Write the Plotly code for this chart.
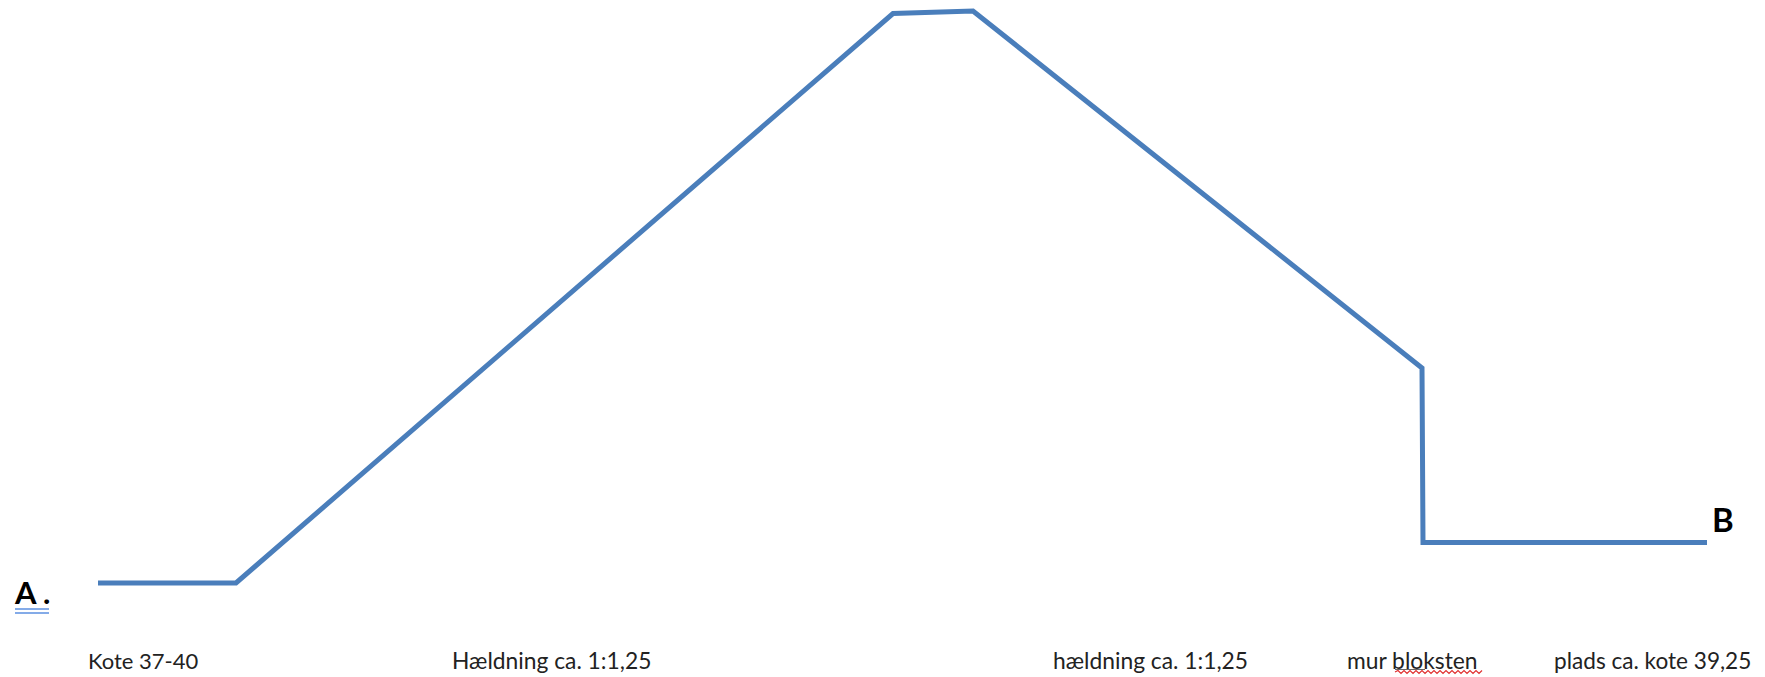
import plotly.graph_objects as go

# Cross-section profile A-B
distance = [98, 236, 893, 973, 1422, 1423, 1707]
height = [94, 94, 663.5, 666, 309, 134.5, 134.5]

labels = ["Kote 37-40", "Hældning ca. 1:1,25", "hældning ca. 1:1,25", "mur bloksten", "plads ca. kote 39,25"]
label_x = [86, 450, 1051, 1345, 1552]
label_y = 17
label_size = [22, 22.8, 22.8, 22.8, 22.6]

end_labels = ["A", ".", "B"]
end_x = [12, 41, 1710]
end_y = [85, 85, 158]
end_size = [31, 31, 33]

LINE = "#4a7ebb"
FONT = "Lato, Carlito, sans-serif"

fig = go.Figure()
fig.add_trace(go.Scatter(x=distance, y=height, mode="lines",
                         line=dict(color=LINE, width=5, shape="linear"),
                         hoverinfo="skip", showlegend=False))

for t, x, s in zip(labels, label_x, label_size):
    fig.add_annotation(x=x, y=label_y, text=t, showarrow=False, xanchor="left", yanchor="middle",
                       font=dict(family=FONT, size=s, color="#222222"))

for t, x, y, s in zip(end_labels, end_x, end_y, end_size):
    fig.add_annotation(x=x, y=y, text=t, showarrow=False, xanchor="left", yanchor="middle",
                       font=dict(family=FONT, size=s, color="#000000", weight="bold"))

# Wavy spell-check underline under "bloksten"
wave = "M 1395 5"
step_x = 1395
up = True
while step_x < 1481:
    step_x += 3
    wave += f" L {step_x} {6.5 if up else 3.5}"
    up = not up

shapes = [
    dict(type="line", x0=15, x1=49, y0=68, y1=68, line=dict(color="#5b8fe0", width=1.5)),
    dict(type="line", x0=15, x1=49, y0=64, y1=64, line=dict(color="#5b8fe0", width=1.5)),
    dict(type="path", path=wave, line=dict(color="#e03030", width=1.2)),
    dict(type="line", x0=1395, x1=1425, y0=7.5, y1=7.5, line=dict(color="#666666", width=1)),
]

fig.update_layout(
    width=1765, height=677,
    margin=dict(l=0, r=0, t=0, b=0),
    paper_bgcolor="white", plot_bgcolor="white",
    shapes=shapes,
    xaxis=dict(range=[0, 1765], visible=False, fixedrange=True),
    yaxis=dict(range=[0, 677], visible=False, fixedrange=True),
)
fig.write_html("out.html", config=dict(displayModeBar=False),
               post_script="document.body.style.margin='0';document.documentElement.style.overflow='hidden';")
